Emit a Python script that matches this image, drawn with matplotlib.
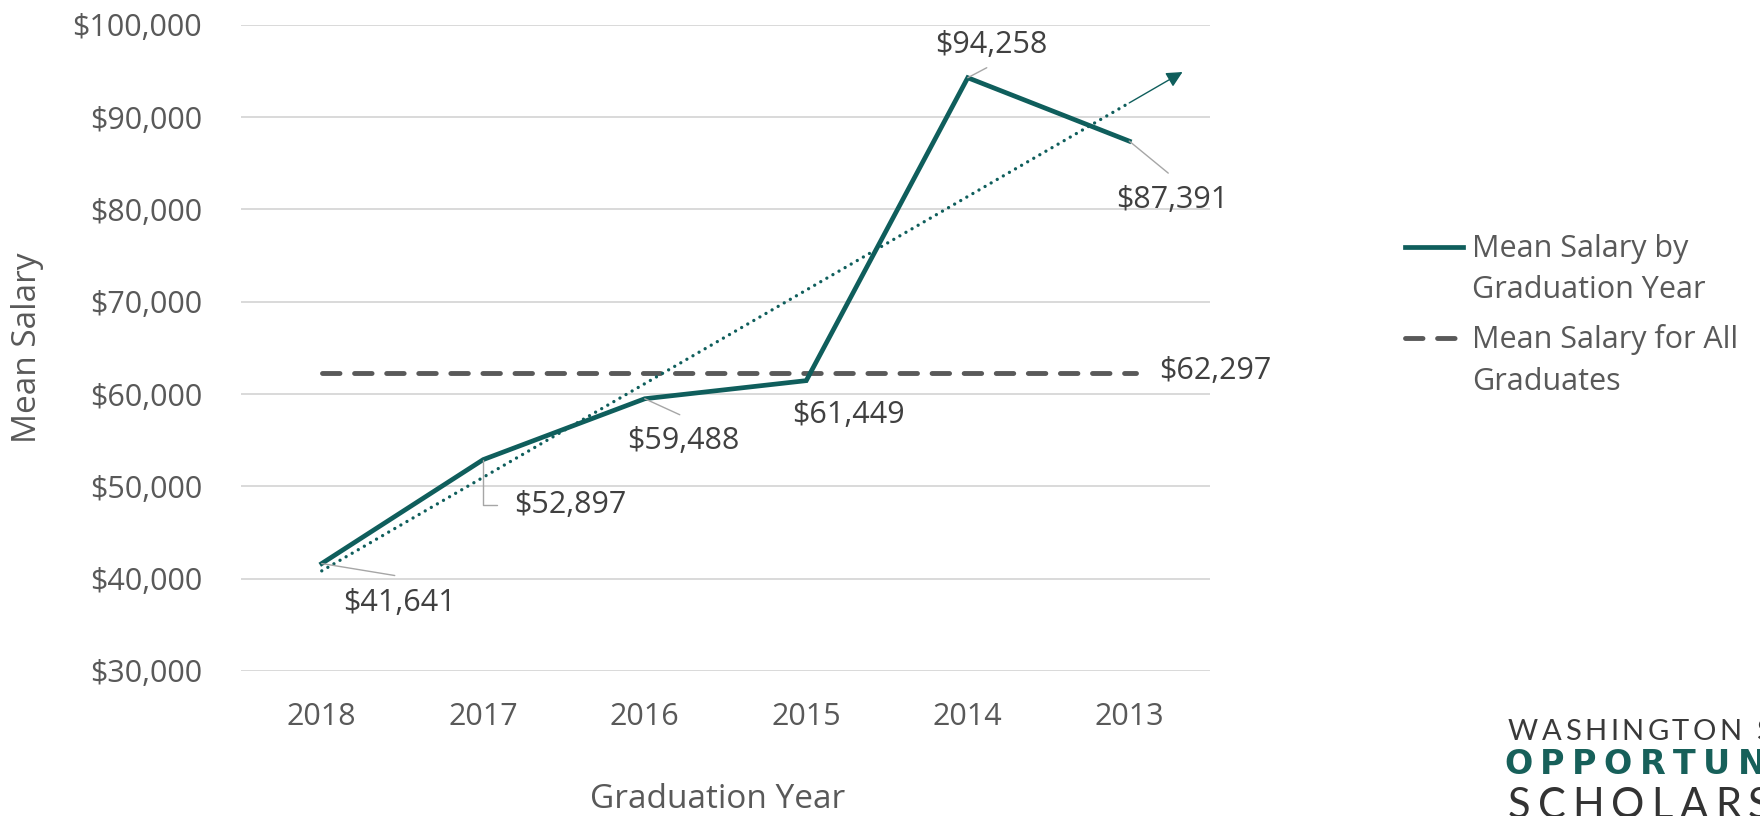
import matplotlib
matplotlib.use("Agg")
import matplotlib.pyplot as plt
from matplotlib.lines import Line2D
import numpy as np

# data
years = ["2018", "2017", "2016", "2015", "2014", "2013"]
salaries = [41641, 52897, 59488, 61449, 94258, 87391]
overall_mean = 62297
yticks = [30000, 40000, 50000, 60000, 70000, 80000, 90000, 100000]

TEAL = "#0f5e5c"
GREY = "#595959"
LABEL = "#404040"
LEADER = "#a6a6a6"
GRID = "#d9d9d9"
FONT = ["Open Sans", "DejaVu Sans"]
FS = 22

plt.rcParams["font.family"] = FONT

W, H = 1760, 816
fig = plt.figure(figsize=(W / 100, H / 100), dpi=100)
ax = fig.add_axes([241 / W, 1 - 671 / H, (1210 - 241) / W, (671 - 24.7) / H])

x = np.arange(len(years))

# gridlines
for v in yticks:
    ax.axhline(v, color=GRID, lw=1.4, zorder=0)

# overall mean (dashed)
ax.plot([x[0], x[-1] + 0.04], [overall_mean, overall_mean], color=GREY, lw=3.5,
        linestyle=(0, (3.6, 3.0)), dash_capstyle="round", zorder=2)

# linear trendline with short forecast arrow
slope, icpt = np.polyfit(x, salaries, 1)
ax.plot(x, slope * x + icpt, color=TEAL, lw=2.4, linestyle=(0, (0.01, 2.1)),
        dash_capstyle="round", zorder=3)
fwd = x[-1] + 0.33
ax.annotate("", xy=(fwd, slope * fwd + icpt), xytext=(x[-1], slope * x[-1] + icpt),
            arrowprops=dict(arrowstyle="-|>", color=TEAL, lw=1.0, mutation_scale=24,
                            shrinkA=0, shrinkB=0), zorder=3)

# main series
ax.plot(x, salaries, color=TEAL, lw=3.4, solid_joinstyle="miter", zorder=4)

# data labels: text offset and leader end, in pixels (y up)
text_off = [(78, -39), (87, -45), (39, -42), (42, -34), (24, 33), (43, -59)]
lead_end = [(73, -12), (14, -45), (35, -16), None, (19, 10), (39, -32)]
for i, v in enumerate(salaries):
    ax.annotate(f"${v:,}", xy=(x[i], v), xytext=text_off[i], textcoords="offset pixels",
                ha="center", va="center", fontsize=FS, color=LABEL, zorder=6)
    if lead_end[i] is None:
        continue
    cs = "angle,angleA=0,angleB=90,rad=0" if i == 1 else "arc3"
    ax.annotate("", xy=(x[i], v), xytext=lead_end[i], textcoords="offset pixels",
                arrowprops=dict(arrowstyle="-", color=LEADER, lw=1.0, shrinkA=0, shrinkB=0,
                                connectionstyle=cs), zorder=5)
ax.annotate(f"${overall_mean:,}", xy=(x[-1], overall_mean), xytext=(86, 2),
            textcoords="offset pixels", ha="center", va="center", fontsize=FS, color=LABEL)

ax.set_xlim(-0.5, len(years) - 0.5)
ax.set_ylim(30000, 100000)
ax.set_xticks(x)
ax.set_xticklabels(years)
ax.set_yticks(yticks)
ax.set_yticklabels([f"${v:,}" for v in yticks])
ax.tick_params(axis="both", length=0, labelsize=FS, colors=GREY)
ax.tick_params(axis="y", pad=28)
ax.tick_params(axis="x", pad=22)
for s in ax.spines.values():
    s.set_visible(False)

fig.text(28 / W, 1 - 348 / H, "Mean Salary", rotation=90, ha="center", va="center",
         fontsize=24, color=GREY)
fig.text(718 / W, 1 - 799 / H, "Graduation Year", ha="center", va="center",
         fontsize=24, color=GREY)

# legend
fig.add_artist(Line2D([1405 / W, 1463 / W], [1 - 247 / H] * 2, color=TEAL, lw=3.4,
                      transform=fig.transFigure))
fig.add_artist(Line2D([1405 / W, 1463 / W], [1 - 338 / H] * 2, color=GREY, lw=3.5,
                      linestyle=(0, (3.6, 3.0)), dash_capstyle="round",
                      transform=fig.transFigure))
fig.text(1472 / W, 1 - 269.5 / H, "Mean Salary by\nGraduation Year", ha="left", va="center",
         fontsize=FS, color=GREY, linespacing=1.5)
fig.text(1472 / W, 1 - 360.5 / H, "Mean Salary for All\nGraduates", ha="left", va="center",
         fontsize=FS, color=GREY, linespacing=1.5)


# logo in the corner, letter-spaced and cut by the right edge like the original
def tracked(x0, base, s, track, **kw):
    r = fig.canvas.get_renderer()
    xp = x0
    for ch in s:
        if xp >= W:
            break
        if ch == " ":
            xp += 0.25 * kw["fontsize"] * 100 / 72 + track
            continue
        t = fig.text(xp / W, 1 - base / H, ch, ha="left", va="baseline", **kw)
        xp += t.get_window_extent(r).width + track


tracked(1508, 740, "WASHINGTON STATE", 3.5, fontsize=21, color="#3a3a3a",
        fontweight="normal", family=["Lato", "DejaVu Sans"])
tracked(1504, 774, "OPPORTUNITY", 7.5, fontsize=24, color="#17605a",
        fontweight="bold", family=["DejaVu Sans"])
tracked(1508, 818, "SCHOLARSHIP", 7, fontsize=30, color="#333333",
        fontweight="normal", family=["Lato", "DejaVu Sans"])

fig.savefig("out.png", dpi=100)
